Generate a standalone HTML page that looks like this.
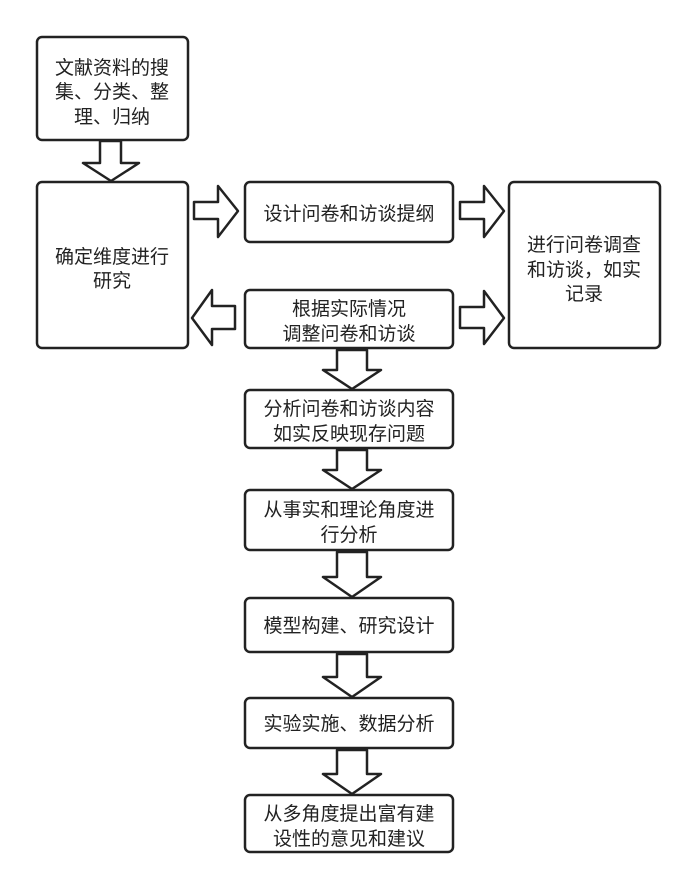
<!DOCTYPE html>
<html><head><meta charset="utf-8"><style>
body{margin:0;background:#fff;}
svg text{font-family:"Liberation Sans","Noto Sans CJK SC",sans-serif;font-size:19px;fill:#222;text-anchor:middle;}
</style></head><body>
<svg width="697" height="889" viewBox="0 0 697 889" xmlns="http://www.w3.org/2000/svg">
<g fill="#fff" stroke="#222" stroke-width="2.5" stroke-linejoin="round">
<rect x="37" y="37" width="151" height="103" rx="5"/>
<rect x="37" y="182" width="151" height="166" rx="5"/>
<rect x="245" y="182" width="208" height="60" rx="5"/>
<rect x="245" y="290" width="208" height="58" rx="5"/>
<rect x="509" y="182" width="151" height="166" rx="5"/>
<rect x="245" y="390" width="208" height="58" rx="5"/>
<rect x="245" y="490" width="208" height="60" rx="5"/>
<rect x="245" y="598" width="208" height="54" rx="5"/>
<rect x="245" y="698" width="208" height="50" rx="5"/>
<rect x="245" y="795" width="208" height="57" rx="5"/>
<polygon points="100,141 121,141 121,163 139,163 111,181 83,163 100,163"/>
<polygon points="194,202 218,202 218,186 238,211 218,237 218,219 194,219"/>
<polygon points="460,202 484,202 484,186 504,211 484,237 484,219 460,219"/>
<polygon points="460,307 484,307 484,291 504,318 484,344 484,328 460,328"/>
<polygon points="235,306 212,306 212,290 192,318 212,345 212,329 235,329"/>
<polygon points="337,350 367,350 367,370 381,370 352,389 323,370 337,370"/>
<polygon points="337,450 367,450 367,470 381,470 352,489 323,470 337,470"/>
<polygon points="337,552 367,552 367,577 381,577 352,597 323,577 337,577"/>
<polygon points="337,654 367,654 367,677 381,677 352,697 323,677 337,677"/>
<polygon points="337,750 367,750 367,774 381,774 352,794 323,774 337,774"/>
</g>
<text x="112" y="74">文献资料的搜</text>
<text x="112" y="98">集、分类、整</text>
<text x="112" y="123">理、归纳</text>
<text x="112" y="263">确定维度进行</text>
<text x="112" y="287">研究</text>
<text x="349" y="220">设计问卷和访谈提纲</text>
<text x="349" y="315">根据实际情况</text>
<text x="349" y="340">调整问卷和访谈</text>
<text x="584" y="251">进行问卷调查</text>
<text x="584" y="276">和访谈，如实</text>
<text x="584" y="300">记录</text>
<text x="349" y="415">分析问卷和访谈内容</text>
<text x="349" y="440">如实反映现存问题</text>
<text x="349" y="516">从事实和理论角度进</text>
<text x="349" y="541">行分析</text>
<text x="349" y="632">模型构建、研究设计</text>
<text x="349" y="730">实验实施、数据分析</text>
<text x="349" y="820">从多角度提出富有建</text>
<text x="349" y="845">设性的意见和建议</text>
</svg>
</body></html>
